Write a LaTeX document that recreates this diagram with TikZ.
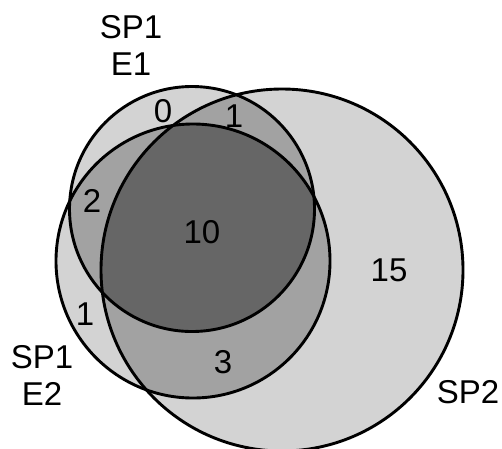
\documentclass[tikz,border=0pt]{standalone}
\usepackage{fontspec}
\setmainfont{Liberation Sans}
\definecolor{lightg}{RGB}{211,211,211}
\definecolor{midg}{RGB}{162,162,162}
\definecolor{darkg}{RGB}{102,102,102}
\begin{document}
\begin{tikzpicture}[x=1pt,y=-1pt,
  lbl/.style={inner sep=0pt,font=\fontsize{33}{37}\selectfont},
  ring/.style={draw=black,line width=2.9pt}]
\useasboundingbox (0,0) rectangle (502,448);
\coordinate (cA) at (192,209);
\coordinate (cB) at (193,261);
\coordinate (cS) at (282,270);
\def\rA{122.5}\def\rB{137}\def\rS{181}
% single regions
\fill[lightg] (cA) circle[radius=\rA];
\fill[lightg] (cB) circle[radius=\rB];
\fill[lightg] (cS) circle[radius=\rS];
% pairwise
\begin{scope}\clip (cA) circle[radius=\rA]; \fill[midg] (cB) circle[radius=\rB]; \fill[midg] (cS) circle[radius=\rS];\end{scope}
\begin{scope}\clip (cB) circle[radius=\rB]; \fill[midg] (cS) circle[radius=\rS];\end{scope}
% triple
\begin{scope}\clip (cA) circle[radius=\rA]; \clip (cB) circle[radius=\rB]; \fill[darkg] (cS) circle[radius=\rS];\end{scope}
% outlines
\draw[ring] (cA) circle[radius=\rA];
\draw[ring] (cB) circle[radius=\rB];
\draw[ring] (cS) circle[radius=\rS];
% labels
\node[lbl,align=center,anchor=north] (lE1) at (131,15) {SP1\\E1};
\node[lbl,align=center,anchor=north] (lE2) at (42,345) {SP1\\E2};
\node[lbl,anchor=base] (lS) at (468,403) {SP2};
\node[lbl] (n0) at (163,111) {0};
\node[lbl] (n1a) at (234,116) {1};
\node[lbl] (n2) at (92,201) {2};
\node[lbl] (n10) at (202,232) {10};
\node[lbl] (n15) at (389,270) {15};
\node[lbl] (n1b) at (85,314) {1};
\node[lbl] (n3) at (223,362) {3};
\end{tikzpicture}
\end{document}
